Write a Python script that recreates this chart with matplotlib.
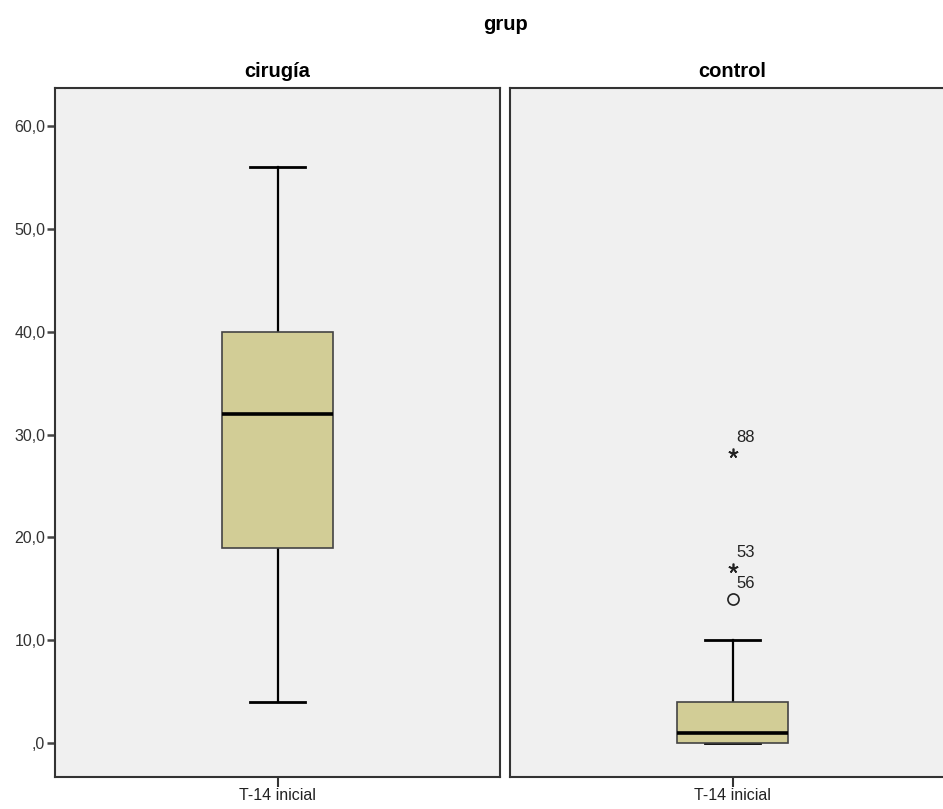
import matplotlib
matplotlib.use("Agg")
import matplotlib.pyplot as plt

plt.rcParams['font.family'] = ['Liberation Sans', 'DejaVu Sans']

groups = ["cirugía", "control"]
variable = "T-14 inicial"
whislo = [4.0, 0.0]
q1 = [19.0, 0.0]
med = [32.0, 1.0]
q3 = [40.0, 4.0]
whishi = [56.0, 10.0]
# outliers per group: values, case labels, kind ('o' mild, '*' extreme)
out_vals = [[], [14.0, 17.0, 28.2]]
out_ids = [[], ["56", "53", "88"]]
out_kind = [[], ["o", "*", "*"]]

yticks = [0, 10, 20, 30, 40, 50, 60]
ytick_labels = [",0", "10,0", "20,0", "30,0", "40,0", "50,0", "60,0"]

W, H = 943, 809
fig = plt.figure(figsize=(W / 100, H / 100), dpi=100)
fig.patch.set_facecolor("white")

panel_w = 445 / W
bottom = 1 - 777 / H
height = (777 - 88) / H
lefts = [55 / W, 510 / W]

box_color = "#D2CD96"
edge = "#333333"

for i, g in enumerate(groups):
    ax = fig.add_axes([lefts[i], bottom, panel_w, height])
    ax.set_facecolor("#F0F0F0")
    stats = [dict(med=med[i], q1=q1[i], q3=q3[i], whislo=whislo[i],
                  whishi=whishi[i], fliers=[])]
    parts = ax.bxp(stats, positions=[0.5], widths=0.25, patch_artist=True,
                   showfliers=False, capwidths=0.124,
                   boxprops=dict(facecolor=box_color, edgecolor="#444444", linewidth=1.2),
                   medianprops=dict(color="black", linewidth=2.6),
                   whiskerprops=dict(color="black", linewidth=1.6),
                   capprops=dict(color="black", linewidth=2.0),
                   manage_ticks=False)
    for b in parts["boxes"]:
        b.set_zorder(3)
    for m in parts["medians"]:
        m.set_zorder(4)
    for c in parts["caps"]:
        c.set_zorder(2)
    for v, lab, k in zip(out_vals[i], out_ids[i], out_kind[i]):
        if k == "o":
            ax.plot([0.5], [v], marker="o", markersize=8, markerfacecolor="none",
                    markeredgecolor="#222222", markeredgewidth=1.2, linestyle="none")
        else:
            ax.plot([0.5], [v], marker=(5, 2, 0), markersize=7,
                    markeredgecolor="#222222", markeredgewidth=1.2, linestyle="none")
        ax.annotate(lab, (0.5, v), xytext=(3, 6), textcoords="offset points",
                    fontsize=12, color="#222222", ha="left", va="bottom")
    ax.set_xlim(0, 1)
    ax.set_ylim(-3.3, 63.7)
    ax.set_xticks([0.5])
    ax.set_xticklabels([variable], fontsize=11.5, color="#222222")
    ax.tick_params(axis="x", length=7, width=1.5, color="#333333", direction="out", pad=1)
    if i == 0:
        ax.set_yticks(yticks)
        ax.set_yticklabels(ytick_labels, fontsize=11.5, color="#333333")
        ax.tick_params(axis="y", length=6, width=1.8, color="#444444", direction="out", pad=1)
    else:
        ax.set_yticks([])
    for s in ax.spines.values():
        s.set_color(edge)
        s.set_linewidth(1.5)
    ax.set_title(g, fontsize=14.5, fontweight="bold", pad=8, color="black")

fig.text((55 + 955) / 2 / W, 1 - 25 / H, "grup", ha="center", va="center",
         fontsize=14.5, fontweight="bold")

fig.savefig("out.png", dpi=100)
